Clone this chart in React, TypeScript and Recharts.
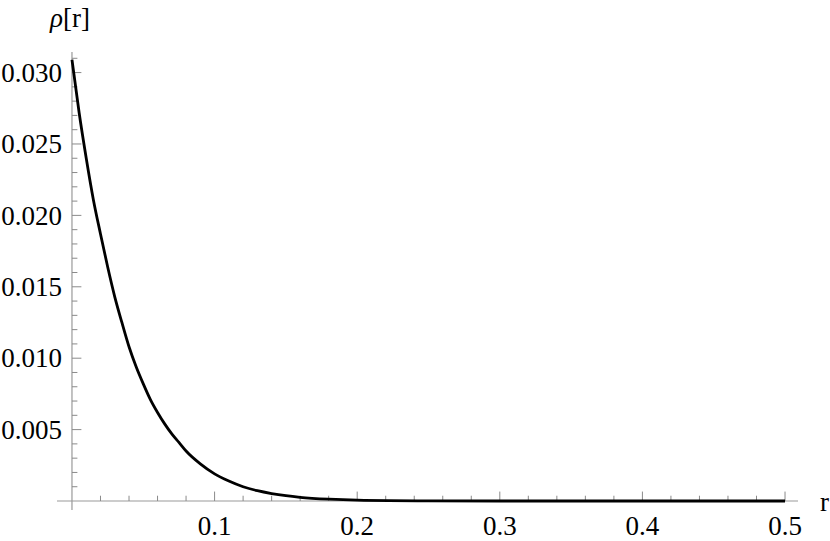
import { Line, LineChart, ReferenceLine, XAxis, YAxis } from "recharts";

// sampled off the reference curve
const rValues = [
  0, 0.005, 0.01, 0.015, 0.02, 0.025, 0.03, 0.035, 0.04, 0.045, 0.05, 0.055, 0.06, 0.065, 0.07,
  0.075, 0.08, 0.09, 0.1, 0.11, 0.12, 0.13, 0.14, 0.15, 0.16, 0.18, 0.2, 0.25, 0.3, 0.4, 0.5,
];
const rhoValues = [
  0.0309, 0.0272, 0.024, 0.0211, 0.0187, 0.0164, 0.0143, 0.0125, 0.0108, 0.0094, 0.0082,
  0.0071, 0.0062, 0.0054, 0.0047, 0.0041, 0.0035, 0.0026, 0.0019, 0.0014, 0.001, 0.00072,
  0.00052, 0.00037, 0.00026, 0.00013, 0.00006, 0.00001, 0, 0, 0,
];

const xTicks = [0.1, 0.2, 0.3, 0.4, 0.5];
const yTicks = [0.005, 0.01, 0.015, 0.02, 0.025, 0.03];

const data = rValues.map((r, i) => ({ r, rho: rhoValues[i] }));

const FONT = "Liberation Serif, Times New Roman, DejaVu Serif, serif";
const AXIS = "#9a9a9a";
const TICK = "#8a8a8a";
const textStyle = { fontFamily: FONT, fontSize: 27 };

// minor tick positions (major ones get a longer mark)
const xMinor: number[] = [];
for (let i = 1; i <= 25; i++) xMinor.push(+(i * 0.02).toFixed(2));
const yMinor: number[] = [];
for (let i = 1; i <= 31; i++) yMinor.push(+(i * 0.001).toFixed(3));

const isMajorX = (v: number) => xTicks.some((t) => Math.abs(t - v) < 1e-9);
const isMajorY = (v: number) => yTicks.some((t) => Math.abs(t - v) < 1e-9);

function XTick({ x, y, payload }: any) {
  return (
    <text x={x} y={y + 25} textAnchor="middle" style={textStyle} fill="#000">
      {payload.value.toFixed(1)}
    </text>
  );
}

function YTick({ x, y, payload }: any) {
  return (
    <text x={x + 5} y={y} dy="0.34em" textAnchor="end" style={textStyle} fill="#000">
      {payload.value.toFixed(3)}
    </text>
  );
}

export default function App() {
  return (
    <div style={{ position: "absolute", left: 0, top: 0, width: 830, height: 541 }}>
      <LineChart
        width={830}
        height={541}
        data={data}
        margin={{ top: 52, right: 32, left: 0, bottom: 0 }}
      >
        <XAxis
          type="number"
          dataKey="r"
          domain={[-0.0105, 0.5091]}
          allowDataOverflow
          ticks={xTicks}
          interval={0}
          axisLine={false}
          tickLine={false}
          tickSize={0}
          tickMargin={0}
          height={31}
          tick={<XTick />}
        />
        <YAxis
          type="number"
          domain={[-0.00063, 0.03144]}
          allowDataOverflow
          ticks={yTicks}
          interval={0}
          axisLine={false}
          tickLine={false}
          tickSize={0}
          tickMargin={0}
          width={57}
          tick={<YTick />}
        />
        <ReferenceLine y={0} stroke={AXIS} strokeWidth={1.2} />
        <ReferenceLine x={0} stroke={AXIS} strokeWidth={1.2} />
        {xMinor.map((t) => (
          <ReferenceLine
            key={"x" + t}
            segment={[
              { x: t, y: 0 },
              { x: t, y: isMajorX(t) ? 0.00066 : 0.00037 },
            ]}
            stroke={TICK}
            strokeWidth={1}
          />
        ))}
        {yMinor.map((t) => (
          <ReferenceLine
            key={"y" + t}
            segment={[
              { x: 0, y: t },
              { x: isMajorY(t) ? 0.0066 : 0.0038, y: t },
            ]}
            stroke={TICK}
            strokeWidth={1}
          />
        ))}
        <Line
          type="monotone"
          dataKey="rho"
          stroke="#000"
          strokeWidth={2.8}
          dot={false}
          activeDot={false}
          isAnimationActive={false}
        />
      </LineChart>
      <svg
        width={830}
        height={541}
        style={{ position: "absolute", left: 0, top: 0, pointerEvents: "none" }}
      >
        <text x={50} y={27} style={textStyle} fill="#000">
          <tspan fontStyle="italic">ρ</tspan>[r]
        </text>
        <text x={820} y={511} style={textStyle} fill="#000">
          r
        </text>
      </svg>
    </div>
  );
}
